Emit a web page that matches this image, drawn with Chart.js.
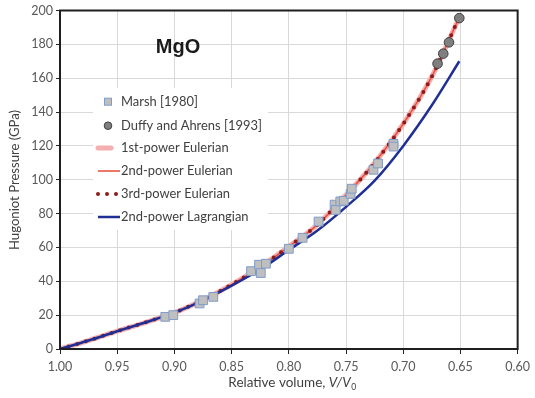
<!DOCTYPE html>
<html>
<head>
<meta charset="utf-8">
<script src="https://cdn.jsdelivr.net/npm/chart.js@4.4.0/dist/chart.umd.min.js"></script>
<style>
html, body { margin: 0; padding: 0; background: #fff; }
</style>
</head>
<body>
<canvas id="myChart" width="535" height="398"></canvas>
<script>
// Marsh [1980] squares
const marshV = [0.908, 0.901, 0.878, 0.875, 0.866, 0.833, 0.826, 0.8245, 0.820, 0.800, 0.788, 0.774, 0.760, 0.759, 0.755, 0.752, 0.746, 0.745, 0.726, 0.722, 0.7085, 0.7085];
const marshP = [19.0, 20.0, 26.9, 28.8, 30.8, 46.0, 49.8, 44.9, 50.4, 59.2, 65.7, 75.3, 85.3, 82.2, 87.2, 87.6, 91.6, 94.7, 105.9, 109.6, 121.2, 119.6];

// Duffy and Ahrens [1993] circles
const duffyV = [0.670, 0.665, 0.660, 0.651];
const duffyP = [168.6, 174.5, 181.2, 195.5];

// Eulerian fits (1st, 2nd, 3rd power lie on top of each other)
const eulerV = [1.00, 0.975, 0.95, 0.925, 0.90, 0.875, 0.85, 0.825, 0.80, 0.775, 0.75, 0.725, 0.70, 0.675, 0.651];
const eulerP = [0, 5, 10.5, 15.8, 21.5, 29, 38, 48.5, 60.5, 73.5, 91, 110, 133, 161, 196];

// 2nd-power Lagrangian fit
const lagV = [1.00, 0.975, 0.95, 0.925, 0.90, 0.875, 0.85, 0.825, 0.80, 0.775, 0.75, 0.725, 0.70, 0.675, 0.651];
const lagP = [0, 5, 10.5, 15.8, 21.5, 28.8, 37.5, 47, 58.5, 70, 84, 99.5, 120, 144, 170];

const xTicks = [1.00, 0.95, 0.90, 0.85, 0.80, 0.75, 0.70, 0.65, 0.60];

const pts = (xs, ys) => xs.map((v, i) => ({ x: v, y: ys[i] }));

const fontFam = "Lato, 'Open Sans', sans-serif";

// font size so that text is about w px wide
const fitSize = (ctx, text, w) => {
    ctx.font = '20px ' + fontFam;
    return 20 * w / ctx.measureText(text).width;
};

const extras = {
    id: 'extras',
    beforeDatasetsDraw(chart) {
        const ctx = chart.ctx;
        ctx.save();
        ctx.fillStyle = '#ffffff';
        ctx.fillRect(93, 88, 175, 142);
        ctx.restore();
    },
    afterDatasetsDraw(chart) {
        const ctx = chart.ctx;
        const a = chart.chartArea;
        const ds = chart.data.datasets;
        ctx.save();

        // frame
        ctx.strokeStyle = '#1f1f1f';
        ctx.lineWidth = 2;
        ctx.strokeRect(a.left, a.top, a.right - a.left, a.bottom - a.top);

        // MgO title
        ctx.fillStyle = '#1a1a1a';
        ctx.font = "bold 20px 'Liberation Sans', Arial, sans-serif";
        ctx.textAlign = 'center';
        ctx.textBaseline = 'middle';
        ctx.fillText('MgO', 178, 47);

        // legend
        const rows = [101.7, 125.7, 148, 171, 194, 217];
        const tx = 121;
        const lsize = fitSize(ctx, 'Duffy and Ahrens [1993]', 141);
        ctx.font = lsize.toFixed(2) + 'px ' + fontFam;
        ctx.textAlign = 'left';
        ctx.fillStyle = '#404040';
        rows.forEach((y, i) => {
            ctx.fillText(ds[i].label, tx, y);
        });
        // markers
        ctx.fillStyle = ds[0].backgroundColor;
        ctx.strokeStyle = ds[0].borderColor;
        ctx.lineWidth = 1;
        ctx.fillRect(104.5, rows[0] - 3.5, 7, 7);
        ctx.strokeRect(104.5, rows[0] - 3.5, 7, 7);
        ctx.beginPath();
        ctx.arc(108, rows[1], 3.8, 0, Math.PI * 2);
        ctx.fillStyle = ds[1].backgroundColor;
        ctx.fill();
        ctx.strokeStyle = ds[1].borderColor;
        ctx.stroke();
        // line samples
        const sample = (d, y, x0, x1) => {
            ctx.beginPath();
            ctx.strokeStyle = d.borderColor;
            ctx.lineWidth = d.borderWidth;
            ctx.lineCap = d.borderCapStyle || 'butt';
            ctx.setLineDash(d.borderDash || []);
            ctx.moveTo(x0, y);
            ctx.lineTo(x1, y);
            ctx.stroke();
            ctx.setLineDash([]);
        };
        sample(ds[2], rows[2], 98, 111);
        sample(ds[3], rows[3], 98, 120);
        sample(ds[4], rows[4], 98, 120);
        sample(ds[5], rows[5], 98, 120);

        // axis titles
        ctx.fillStyle = '#404040';
        const ysize = fitSize(ctx, 'Hugoniot Pressure (GPa)', 140);
        ctx.font = ysize.toFixed(2) + 'px ' + fontFam;
        ctx.textAlign = 'center';
        ctx.save();
        ctx.translate(15, 180);
        ctx.rotate(-Math.PI / 2);
        ctx.fillText('Hugoniot Pressure (GPa)', 0, 0);
        ctx.restore();

        const p1 = 'Relative volume, ';
        const p2 = 'V/V';
        const p3 = '0';
        const xs = fitSize(ctx, p1 + p2, 124).toFixed(2);
        ctx.font = xs + 'px ' + fontFam;
        const w1 = ctx.measureText(p1).width;
        ctx.font = 'italic ' + xs + 'px ' + fontFam;
        const w2 = ctx.measureText(p2).width;
        ctx.font = '8.5px ' + fontFam;
        const w3 = ctx.measureText(p3).width;
        let x = 292 - (w1 + w2 + w3) / 2;
        ctx.textAlign = 'left';
        ctx.font = xs + 'px ' + fontFam;
        ctx.fillText(p1, x, 383);
        x += w1;
        ctx.font = 'italic ' + xs + 'px ' + fontFam;
        ctx.fillText(p2, x, 383);
        x += w2;
        ctx.font = '8.5px ' + fontFam;
        ctx.fillText(p3, x + 0.5, 387.5);
        ctx.restore();
    }
};

var ctx = document.getElementById('myChart').getContext('2d');
var myChart = new Chart(ctx, {
    type: 'scatter',
    data: {
        datasets: [{
            label: 'Marsh [1980]',
            data: pts(marshV, marshP),
            order: 0,
            pointStyle: 'rect',
            pointRadius: 6.2,
            backgroundColor: '#bfbfbf',
            borderColor: '#7f9ccb',
            borderWidth: 1
        }, {
            label: 'Duffy and Ahrens [1993]',
            data: pts(duffyV, duffyP),
            order: 1,
            pointStyle: 'circle',
            pointRadius: 4.8,
            backgroundColor: '#7f7f7f',
            borderColor: '#3f3f3f',
            borderWidth: 1
        }, {
            label: '1st-power Eulerian',
            data: pts(eulerV, eulerP),
            order: 6,
            showLine: true,
            pointRadius: 0,
            borderColor: '#f4b0b0',
            borderWidth: 5,
            borderCapStyle: 'round',
            cubicInterpolationMode: 'monotone'
        }, {
            label: '2nd-power Eulerian',
            data: pts(eulerV, eulerP),
            order: 5,
            showLine: true,
            pointRadius: 0,
            borderColor: '#ea4a36',
            borderWidth: 1.5,
            cubicInterpolationMode: 'monotone'
        }, {
            label: '3rd-power Eulerian',
            data: pts(eulerV, eulerP),
            order: 4,
            showLine: true,
            pointRadius: 0,
            borderColor: '#8e1b1b',
            borderWidth: 4,
            borderCapStyle: 'round',
            borderDash: [0, 9],
            cubicInterpolationMode: 'monotone'
        }, {
            label: '2nd-power Lagrangian',
            data: pts(lagV, lagP),
            order: 3,
            showLine: true,
            pointRadius: 0,
            borderColor: '#1f2f96',
            borderWidth: 2.5,
            cubicInterpolationMode: 'monotone'
        }]
    },
    options: {
        responsive: false,
        devicePixelRatio: 1,
        animation: false,
        layout: { padding: { left: 0, top: 10, right: 13, bottom: 0 } },
        plugins: {
            legend: { display: false },
            tooltip: { enabled: false }
        },
        scales: {
            x: {
                type: 'linear',
                reverse: true,
                min: 0.60,
                max: 1.00,
                afterFit: s => { s.height = 49; },
                afterBuildTicks: s => { s.ticks = xTicks.map(v => ({ value: v })); },
                ticks: {
                    padding: 5,
                    color: '#595959',
                    font: { family: fontFam, size: 12.5 },
                    callback: v => Number(v).toFixed(2),
                    maxRotation: 0
                },
                grid: { color: '#d9d9d9', tickColor: '#262626', tickLength: 5 },
                border: { display: false }
            },
            y: {
                min: 0,
                max: 200,
                afterFit: s => { s.width = 60; },
                ticks: {
                    stepSize: 20,
                    padding: 3,
                    color: '#595959',
                    font: { family: fontFam, size: 12.5 }
                },
                grid: { color: '#d9d9d9', tickColor: '#262626', tickLength: 4 },
                border: { display: false }
            }
        }
    },
    plugins: [extras]
});
</script>
</body>
</html>
